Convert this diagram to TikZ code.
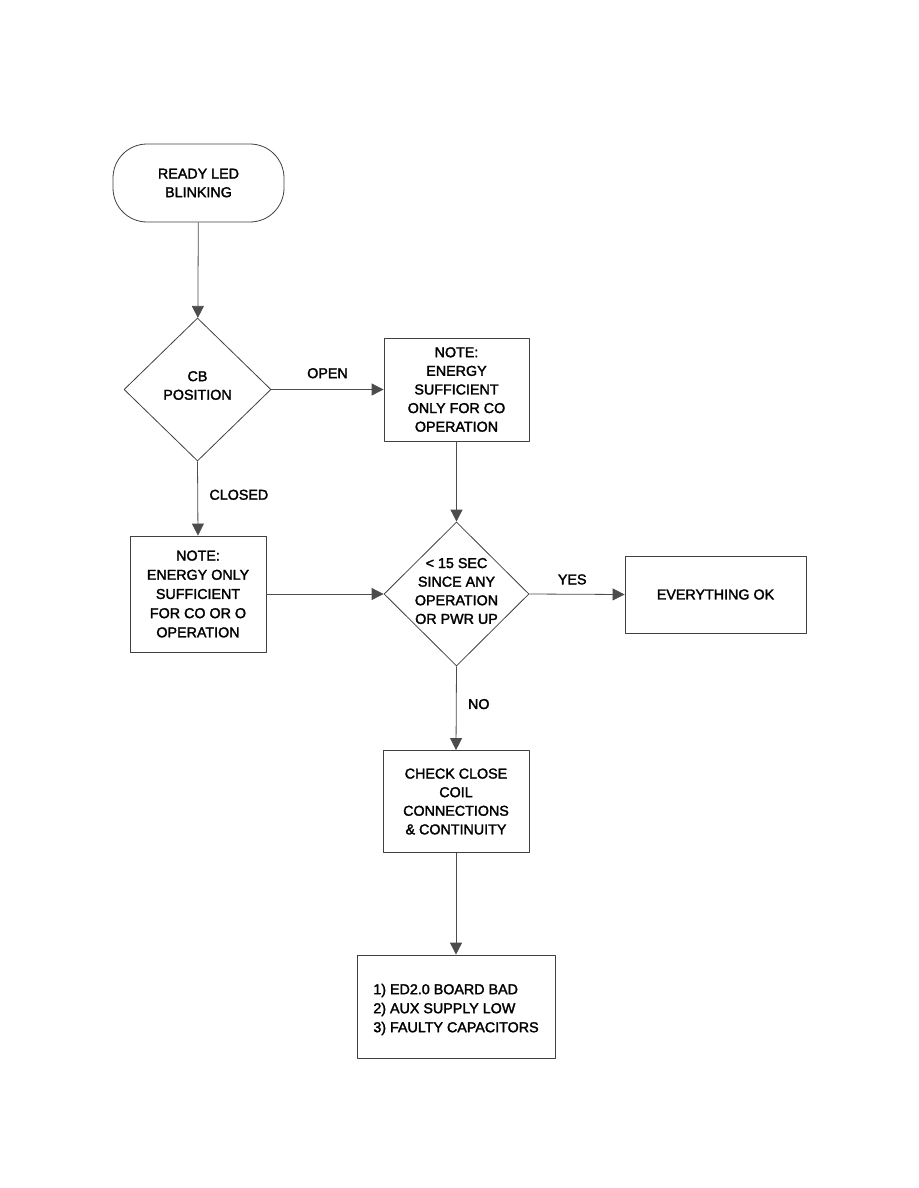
\documentclass[tikz,border=0pt]{standalone}
\usepackage{fontspec}
\setmainfont{Liberation Sans}[FakeBold=2]
\usetikzlibrary{shapes.geometric,arrows.meta}
\begin{document}
\begin{tikzpicture}[x=1pt,y=-1pt,>={Triangle[length=12pt,width=12pt]},
font=\fontsize{14.3}{18.6}\selectfont, line join=round,
box/.style={draw=black!75,line width=0.8pt,align=center,inner sep=0pt},
dec/.style={draw=black!75,line width=0.8pt,diamond,inner sep=0pt},
arr/.style={->,draw=black!70,line width=0.8pt}]
\useasboundingbox (0,0) rectangle (918,1188);
\node[box,rounded corners=34pt,minimum width=171pt,minimum height=78pt] (ready) at (198.5,183) {READY LED\\BLINKING};
\node[dec,minimum width=147pt,minimum height=143pt] (cb) at (197.5,389.5) {};
\node[align=center] (cbtext) at ([yshift=4pt]cb.center) {CB\\POSITION};
\node[box,minimum width=145pt,minimum height=103pt] (noteopen) at (456.5,389.5) {NOTE:\\ENERGY\\SUFFICIENT\\ONLY FOR CO\\OPERATION};
\node[box,minimum width=136pt,minimum height=116pt,font=\fontsize{14.3}{19.2}\selectfont] (noteclosed) at (198,594) {NOTE:\\ENERGY ONLY\\SUFFICIENT\\FOR CO OR O\\OPERATION};
\node[dec,minimum width=145pt,minimum height=144pt] (sec) at (456.5,594) {};
\node[align=center] (sectext) at ([yshift=3pt]sec.center) {< 15 SEC\\SINCE ANY\\OPERATION\\OR PWR UP};
\node[box,minimum width=181pt,minimum height=77pt] (ok) at (715.5,594.5) {EVERYTHING OK};
\node[box,minimum width=146pt,minimum height=102pt] (check) at (456,801.5) {CHECK CLOSE\\COIL\\CONNECTIONS\\\& CONTINUITY};
\node[box,minimum width=198pt,minimum height=103pt] (causes) at (456,1006.5) {};
\node[align=left,font=\fontsize{14.3}{19}\selectfont] (causestext) at ([yshift=-3pt]causes.center) {1) ED2.0 BOARD BAD\\2) AUX SUPPLY LOW\\3) FAULTY CAPACITORS};
\draw[arr] (ready) -- (cb);
\draw[arr] (cb.east) -- node[above=7.5pt]{OPEN} (noteopen.west);
\draw[arr] (cb.south) -- node[right=8pt,pos=0.45]{CLOSED} (noteclosed.north);
\draw[arr] (noteopen.south) -- (sec.north);
\draw[arr] (noteclosed.east) -- (sec.west);
\draw[arr] (sec.east) -- node[above=6pt,pos=0.45]{YES} (ok.west);
\draw[arr] (sec.south) -- node[right=8pt,pos=0.45]{NO} (check.north);
\draw[arr] (check) -- (causes);
\end{tikzpicture}
\end{document}
